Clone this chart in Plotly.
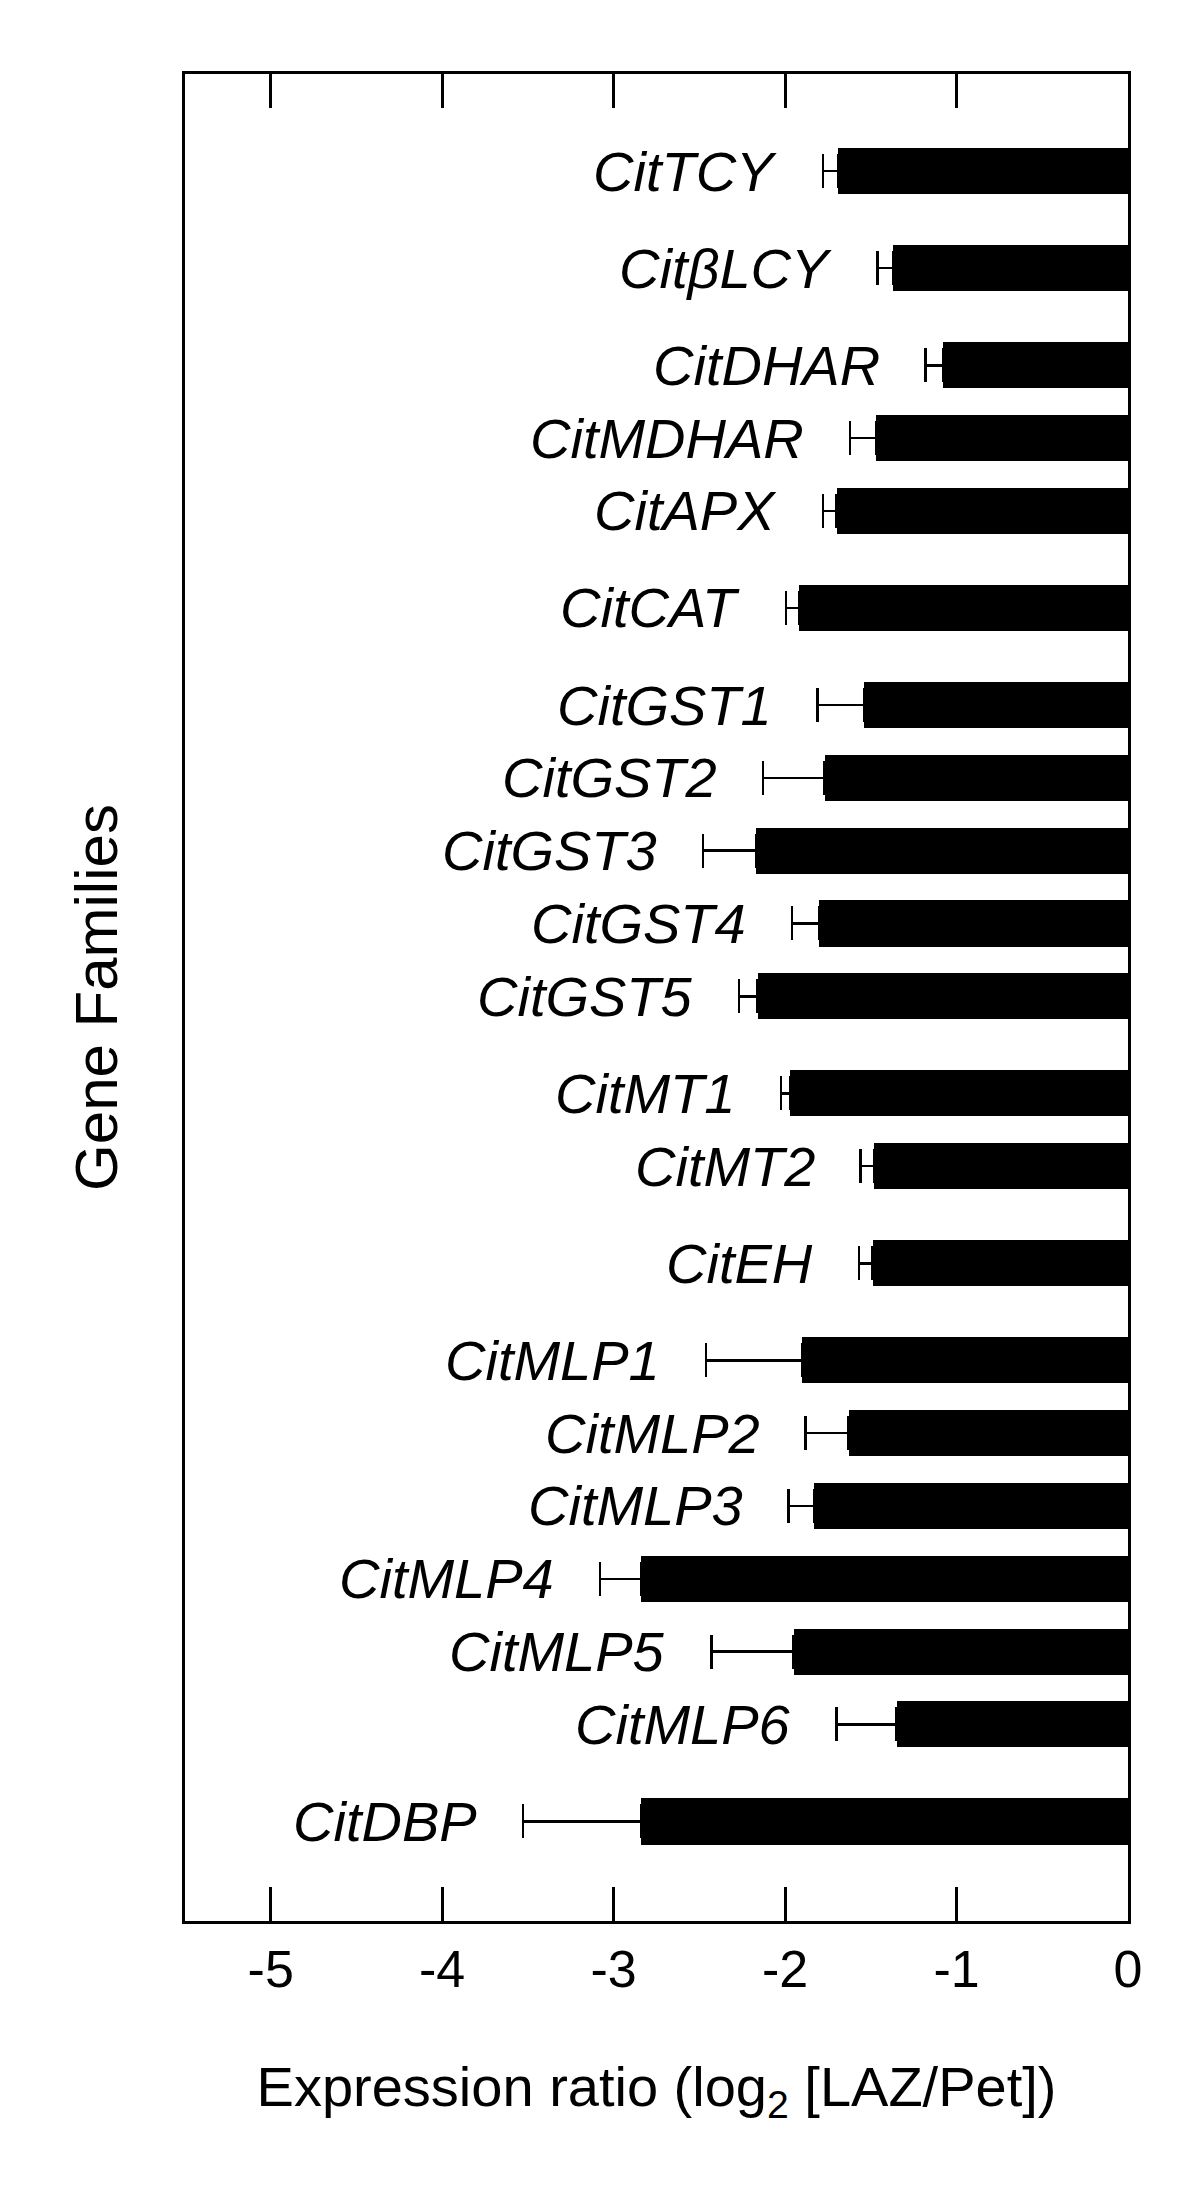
import plotly.graph_objects as go

# Gene names, their family (used for the row spacing) and expression data
genes = ['CitTCY', 'CitβLCY', 'CitDHAR', 'CitMDHAR', 'CitAPX', 'CitCAT',
         'CitGST1', 'CitGST2', 'CitGST3', 'CitGST4', 'CitGST5',
         'CitMT1', 'CitMT2', 'CitEH',
         'CitMLP1', 'CitMLP2', 'CitMLP3', 'CitMLP4', 'CitMLP5', 'CitMLP6',
         'CitDBP']
families = ['TCY', 'LCY', 'ASC', 'ASC', 'ASC', 'CAT',
            'GST', 'GST', 'GST', 'GST', 'GST',
            'MT', 'MT', 'EH',
            'MLP', 'MLP', 'MLP', 'MLP', 'MLP', 'MLP',
            'DBP']
ratio = [-1.69, -1.37, -1.08, -1.47, -1.70, -1.92,
         -1.54, -1.77, -2.17, -1.80, -2.16,
         -1.97, -1.48, -1.49,
         -1.90, -1.63, -1.83, -2.84, -1.95, -1.35,
         -2.84]
err = [0.09, 0.09, 0.10, 0.15, 0.08, 0.075,
       0.27, 0.36, 0.31, 0.16, 0.11,
       0.055, 0.08, 0.08,
       0.56, 0.25, 0.15, 0.24, 0.48, 0.35,
       0.69]
x_ticks = [-5, -4, -3, -2, -1, 0]

# Row positions: genes of one family sit closer together than separate families
pos = []
y = 0
for i, fam in enumerate(families):
    if i > 0:
        y += 3 if fam == families[i - 1] else 4
    pos.append(y)

fig = go.Figure()

fig.add_trace(go.Bar(
    x=ratio, y=pos, orientation='h', width=1.9,
    marker=dict(color='black', line=dict(width=0)),
    error_x=dict(type='data', symmetric=False, array=[0] * len(err),
                 arrayminus=err, color='black', thickness=2.5, width=17),
    showlegend=False, hovertext=genes, hoverinfo='x+text'
))

# Gene labels to the left of each error bar
for g, r, e, p in zip(genes, ratio, err, pos):
    fig.add_annotation(x=r - e, y=p, text='<i>' + g + '</i>', showarrow=False,
                       xanchor='right', yanchor='middle', xshift=-44,
                       font=dict(size=56, color='black',
                                 family='Liberation Sans, Arial, sans-serif'))

fig.update_layout(
    width=1200, height=2187,
    margin=dict(l=177, r=80, t=66, b=274),
    plot_bgcolor='white', paper_bgcolor='white',
    font=dict(family='Liberation Sans, Arial, sans-serif', color='black'),
    bargap=0,
)

fig.update_xaxes(
    range=[-5.5, 0], tickvals=x_ticks, ticktext=[str(t) for t in x_ticks],
    ticks='inside', ticklen=34, tickwidth=2.5, tickcolor='black',
    showline=True, linewidth=2.5, linecolor='black', mirror='allticks',
    showgrid=False, zeroline=False, automargin=False,
    tickfont=dict(size=52), ticklabelstandoff=1,
    title=dict(text='Expression ratio (log<sub>2</sub> [LAZ/Pet])',
               font=dict(size=56), standoff=70),
)
fig.update_yaxes(
    range=[72.1, -4.0], showticklabels=False, ticks='',
    showline=True, linewidth=2.5, linecolor='black', mirror=True,
    showgrid=False, zeroline=False, automargin=False,
    title=dict(text='Gene Families', font=dict(size=60), standoff=46),
)

fig.write_html('out.html')
